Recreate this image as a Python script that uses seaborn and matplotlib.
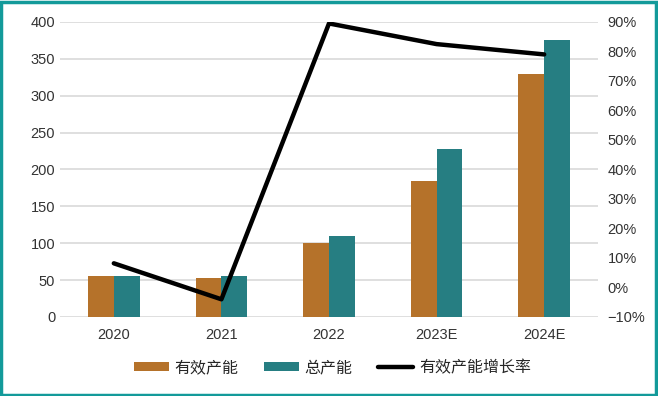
import numpy as np
import pandas as pd
import matplotlib
matplotlib.use("Agg")
import matplotlib.pyplot as plt
import seaborn as sns
from matplotlib.patches import Rectangle, Patch
from matplotlib.lines import Line2D
from matplotlib.ticker import PercentFormatter

years = ["2020", "2021", "2022", "2023E", "2024E"]
effective = [55, 53, 101, 185, 330]
total = [55, 55, 110, 228, 375]
growth = [8.2, -4.0, 89.5, 82.5, 79.0]

s_eff = "有效产能"
s_tot = "总产能"
s_gr = "有效产能增长率"

c_eff = "#B5722A"
c_tot = "#267E82"

sns.set_theme(style="white")
plt.rcParams['font.family'] = ['Liberation Sans', 'Noto Sans CJK SC', 'DejaVu Sans']

df = pd.DataFrame({
    "year": years * 2,
    "value": effective + total,
    "series": [s_eff] * len(years) + [s_tot] * len(years),
})

fig = plt.figure(figsize=(6.58, 3.96), dpi=100)
ax = fig.add_axes([0.0912, 0.1995, 0.8176, 0.745])

sns.barplot(data=df, x="year", y="value", hue="series", order=years,
            hue_order=[s_eff, s_tot], palette=[c_eff, c_tot], width=0.48,
            saturation=1, ax=ax, legend=False, edgecolor="none")

ax.set_ylim(0, 400)
ax.set_yticks(range(0, 401, 50))
ax.set_xlim(-0.5, len(years) - 0.5)
ax.yaxis.grid(True, color="#D9D9D9", linewidth=1.2)
ax.set_axisbelow(True)
ax.set_xlabel("")
ax.set_ylabel("")
for sp in ax.spines.values():
    sp.set_visible(False)
ax.tick_params(axis="both", length=0, labelsize=10.5, colors="#333333")
ax.tick_params(axis="x", pad=8)

ax2 = ax.twinx()
sns.lineplot(x=np.arange(len(years)), y=growth, ax=ax2, color="black",
             linewidth=3.2, legend=False)
ax2.set_ylim(-10, 90)
ax2.set_yticks(range(-10, 91, 10))
ax2.yaxis.set_major_formatter(PercentFormatter(decimals=0))
for sp in ax2.spines.values():
    sp.set_visible(False)
ax2.tick_params(axis="y", length=0, labelsize=10.5, colors="#333333", pad=7)
ax2.set_xlim(-0.5, len(years) - 0.5)

handles = [
    Patch(facecolor=c_eff, edgecolor="none"),
    Patch(facecolor=c_tot, edgecolor="none"),
    Line2D([0], [0], color="black", linewidth=3.2),
]
fig.legend(handles, [s_eff, s_tot, s_gr], loc="center", bbox_to_anchor=(0.505, 0.072),
           ncol=3, frameon=False, handlelength=2.2, handleheight=0.55,
           columnspacing=1.6, handletextpad=0.35,
           prop={"family": ["Noto Sans CJK SC", "DejaVu Sans"], "size": 11.5})

fig.add_artist(Rectangle((0.002, 0.003), 0.995, 0.993, transform=fig.transFigure,
                         fill=False, edgecolor="#139A9A", linewidth=2.5))

fig.savefig("out.png", dpi=100)
